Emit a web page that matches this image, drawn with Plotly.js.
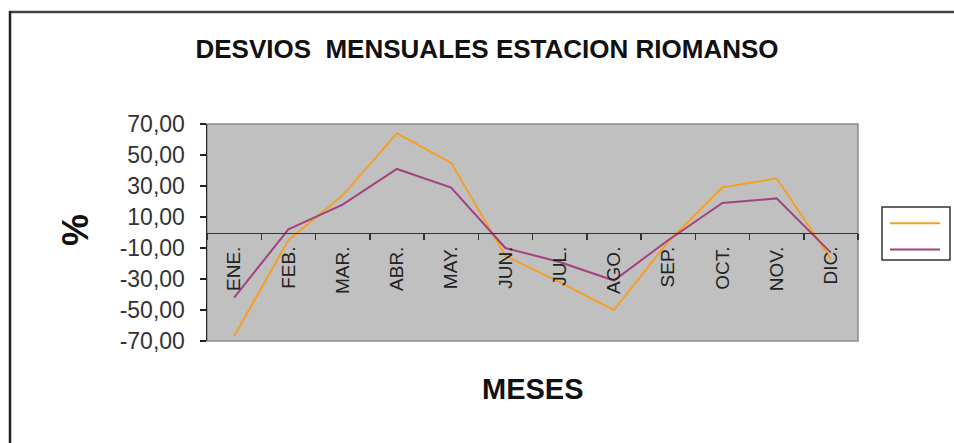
<!DOCTYPE html>
<html>
<head>
<meta charset="utf-8">
<script src="https://cdn.plot.ly/plotly-3.0.1.min.js"></script>
<style>
  html, body { margin: 0; padding: 0; background: #ffffff; }
  #chart { width: 954px; height: 443px; }
</style>
</head>
<body>
<div id="chart"></div>
<script>
const months = ['ENE.', 'FEB.', 'MAR.', 'ABR.', 'MAY.', 'JUN.', 'JUL.', 'AGO.', 'SEP.', 'OCT.', 'NOV.', 'DIC.'];
const serieNaranja = [-67, -5, 24, 64, 45, -15, -32, -50, -6, 29, 35, -17];
const serieMorada = [-42, 2, 18, 41, 29, -10, -19, -31, -5, 19, 22, -13];
const yTicks = [70, 50, 30, 10, -10, -30, -50, -70];
const yTickText = yTicks.map(v => v.toFixed(2).replace('.', ','));

const FONT = 'Liberation Sans, Arial, sans-serif';

const traces = [
  { x: months, y: serieNaranja, type: 'scatter', mode: 'lines', name: '',
    line: { color: '#f5a028', width: 2 }, hoverinfo: 'x+y' },
  { x: months, y: serieMorada, type: 'scatter', mode: 'lines', name: '',
    line: { color: '#a3427f', width: 2 }, hoverinfo: 'x+y' }
];

const px = v => (v - 207) / 651;   // pixel -> paper x
const py = v => (341 - v) / 217;   // pixel -> paper y

const layout = {
  width: 954, height: 443,
  margin: { l: 207, r: 96, t: 124, b: 102, pad: 0, autoexpand: false },
  paper_bgcolor: '#ffffff',
  plot_bgcolor: '#c0c0c0',
  separators: ',.',
  font: { family: FONT, color: '#222' },
  title: {
    text: 'DESVIOS  MENSUALES ESTACION RIOMANSO',
    font: { family: FONT, size: 26, color: '#111', weight: 'bold' },
    x: 487 / 954, xanchor: 'center', xref: 'container',
    y: 1 - 49 / 443, yanchor: 'middle', yref: 'container'
  },
  xaxis: {
    type: 'category',
    categoryorder: 'array', categoryarray: months,
    range: [-0.5, 11.5],
    anchor: 'free', position: 0.5,
    showline: true, linecolor: '#333', linewidth: 1.5,
    ticks: 'outside', tickson: 'boundaries', ticklen: 6, tickcolor: '#333', tickwidth: 1.5,
    tickangle: -90,
    tickfont: { family: FONT, size: 19, color: '#222' },
    ticklabelstandoff: 5,
    showgrid: false, zeroline: false, fixedrange: true
  },
  yaxis: {
    range: [-70, 70],
    tickvals: yTicks,
    ticktext: yTickText,
    showline: true, linecolor: '#222', linewidth: 1.5,
    ticks: 'outside', ticklen: 6, tickcolor: '#222', tickwidth: 1.5,
    tickfont: { family: FONT, size: 23, color: '#333' },
    ticklabelstandoff: 10,
    showgrid: false, zeroline: false, fixedrange: true
  },
  showlegend: true,
  legend: {
    x: px(885), xanchor: 'left',
    y: py(205), yanchor: 'top',
    bgcolor: 'rgba(0,0,0,0)', borderwidth: 0,
    font: { family: FONT, size: 18 },
    itemwidth: 50,
    tracegroupgap: 0
  },
  annotations: [
    { text: 'MESES', xref: 'paper', yref: 'paper', x: 0.5, y: py(389),
      xanchor: 'center', yanchor: 'middle', showarrow: false,
      font: { family: FONT, size: 29, color: '#111', weight: 'bold' } },
    { text: '%', xref: 'paper', yref: 'paper', x: px(75), y: py(230),
      xanchor: 'center', yanchor: 'middle', showarrow: false, textangle: -90,
      font: { family: FONT, size: 36, color: '#111', weight: 'bold' } }
  ],
  shapes: [
    { type: 'rect', xref: 'paper', yref: 'paper', x0: 0, x1: 1, y0: 0, y1: 1,
      line: { color: '#8c8c8c', width: 1.5 }, layer: 'below' },
    { type: 'rect', xref: 'paper', yref: 'paper', x0: px(882), x1: px(950), y0: py(260), y1: py(207),
      fillcolor: '#ffffff', line: { color: '#333', width: 1.5 }, layer: 'below' },
    { type: 'line', xref: 'paper', yref: 'paper',
      x0: px(9), x1: px(960), y0: py(12), y1: py(12),
      line: { color: '#444', width: 2.5 } },
    { type: 'line', xref: 'paper', yref: 'paper',
      x0: px(10), x1: px(10), y0: py(11), y1: py(450),
      line: { color: '#222', width: 2.5 } }
  ]
};

Plotly.newPlot('chart', traces, layout, { displayModeBar: false, staticPlot: true });
</script>
</body>
</html>
